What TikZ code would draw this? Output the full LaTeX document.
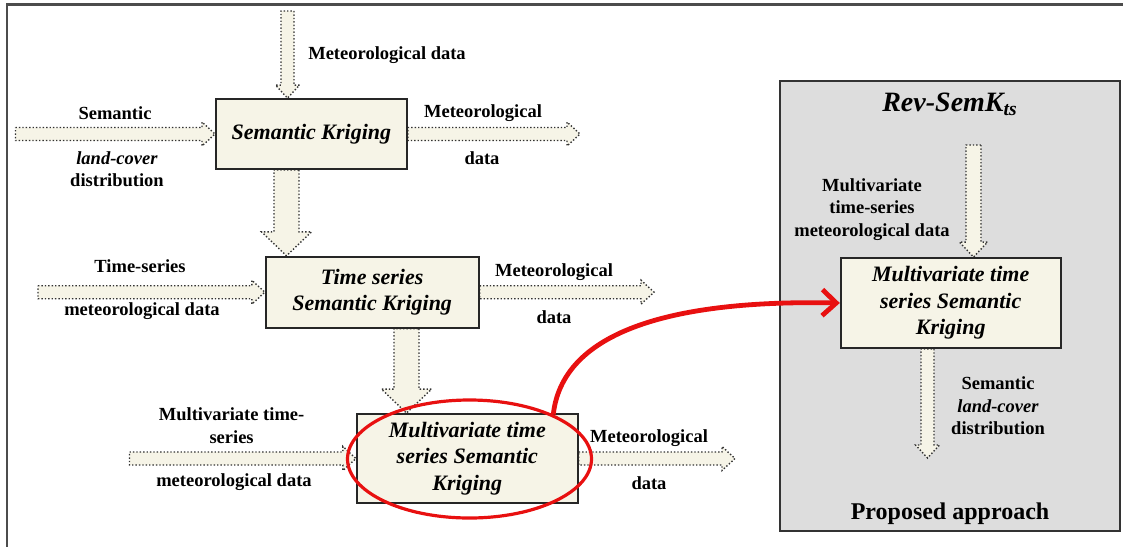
\documentclass[tikz,border=0pt]{standalone}
\usepackage{fontspec}
\setmainfont{Liberation Serif}
\usetikzlibrary{arrows.meta,calc,shapes.geometric,positioning}
\definecolor{cream}{RGB}{246,244,231}
\definecolor{panelgrey}{RGB}{221,221,221}
\definecolor{hlred}{RGB}{232,16,16}
\newcommand\lblfont{\fontsize{9.25}{11.25}\selectfont\bfseries}
\newcommand\boxfont{\fontsize{11}{13.25}\selectfont\bfseries\itshape}
\pgfdeclarelayer{back}
\pgfsetlayers{back,main}
\tikzset{
  arrbody/.store in=\arrbody, arrhead/.store in=\arrhead, arrlen/.store in=\arrlen,
  blockarrow/.style={draw=black!80, densely dotted, line width=0.7pt, fill=cream,
    to path={let \p1=(\tikztostart), \p2=(\tikztotarget),
      \p3=($(\tikztotarget)!\arrlen!(\tikztostart)$) in
      ($(\p1)!\arrbody!90:(\p2)$) -- ($(\p3)!\arrbody!90:(\p2)$)
      -- ($(\p3)!\arrhead!90:(\p2)$) -- (\p2) -- ($(\p3)!\arrhead!-90:(\p2)$)
      -- ($(\p3)!\arrbody!-90:(\p2)$) -- ($(\p1)!\arrbody!-90:(\p2)$) -- cycle}},
  slim/.style={blockarrow, arrbody=3.25pt, arrhead=6pt, arrlen=6.5pt},
  fat/.style={blockarrow, arrbody=6.25pt, arrhead=12.5pt, arrlen=12pt},
  kbox/.style={draw=black!85, line width=0.9pt, fill=cream, align=center, inner sep=0pt, font=\boxfont},
  lbl/.style={align=center, inner sep=0pt, font=\lblfont},
}
\begin{document}
\begin{tikzpicture}[x=0.5pt, y=-0.5pt]
\useasboundingbox (0,0) rectangle (1123,547);
\draw[line width=1.2pt, black!70] (1123,4.5) -- (7,4.5) -- (7,547);

% boxes
\node[kbox, minimum width=95.5pt, minimum height=35pt] (sk) at (311.4,134) {Semantic Kriging};
\node[kbox, minimum width=106.5pt, minimum height=35.5pt] (tssk) at (372.2,292.2) {Time series\\Semantic Kriging};
\node[kbox, minimum width=110.5pt, minimum height=44.5pt] (mtssk) at (467.3,458.5) {Multivariate time\\series Semantic\\Kriging};
\node[kbox, minimum width=110pt, minimum height=45pt] (mtsskp) at (950.7,303) {Multivariate time\\series Semantic\\Kriging};

% arrow ends
\coordinate (in0) at (287.5,11);
\coordinate (in1) at (15.5,134);
\coordinate (out1) at (580,134);
\coordinate (c1) at (286.5,0);
\coordinate (in2) at (38,292.2);
\coordinate (out2) at (654,292.2);
\coordinate (c2) at (406.5,0);
\coordinate (in3) at (129.5,458.5);
\coordinate (out3) at (735,458.5);
\coordinate (in4) at (973.5,145);
\coordinate (c4) at (927.5,0);
\coordinate (out4) at (927.5,458);

\begin{pgfonlayer}{back}
\node[draw=black!80, line width=1pt, fill=panelgrey, minimum width=170pt, minimum height=225pt] (panel) at (950,306) {};
\draw[slim] (in0) to (in0 |- sk.north);
\draw[slim] (in1) to (sk.west);
\draw[slim] (sk.east) to (out1);
\draw[fat] (c1 |- sk.south) to (c1 |- tssk.north);
\draw[slim] (in2) to (tssk.west);
\draw[slim] (tssk.east) to (out2);
\draw[fat] (c2 |- tssk.south) to (c2 |- mtssk.north);
\draw[slim] (in3) to (mtssk.west);
\draw[slim] (mtssk.east) to (out3);
\draw[slim, arrbody=3.75pt, arrhead=7pt, arrlen=7.5pt] (in4) to (in4 |- mtsskp.north);
\draw[slim] (c4 |- mtsskp.south) to (out4);
\end{pgfonlayer}

% labels
\node[lbl] (l0) at (387,55) {Meteorological data};
\node[lbl] (l1a) at (115,113) {Semantic};
\node[lbl] (l1b) at (117,169) {\textit{land-cover}\\distribution};
\node[lbl] (r1a) at (483,113) {Meteorological};
\node[lbl] (r1b) at (482,158) {data};
\node[lbl] (l2a) at (140,266) {Time-series};
\node[lbl] (l2b) at (142,311) {meteorological data};
\node[lbl] (r2a) at (554,272) {Meteorological};
\node[lbl] (r2b) at (554,317) {data};
\node[lbl] (l3a) at (231.6,425.5) {Multivariate time-\\series};
\node[lbl] (l3b) at (234,481.7) {meteorological data};
\node[lbl] (r3a) at (649,438) {Meteorological};
\node[lbl] (r3b) at (649,483) {data};
\node[lbl] (l4) at (872,209.5) {Multivariate\\time-series\\meteorological data};
\node[lbl] (l5) at (998,406) {Semantic\\\textit{land-cover}\\distribution};
\node[inner sep=0pt, font=\fontsize{14}{16}\selectfont\bfseries\itshape] (title) at (950,104) {Rev-SemK\textsubscript{ts}};
\node[inner sep=0pt, font=\fontsize{12}{14}\selectfont\bfseries] (prop) at (950,514) {Proposed approach};

% highlight
\node[draw=hlred, line width=1.6pt, ellipse, minimum width=122pt, minimum height=59pt, inner sep=0pt] (hl) at (469.5,459) {};
\draw[hlred, line width=2.4pt, -{Straight Barb[length=7pt,width=13pt]}] (hl.28) .. controls +(10,-90) and +(-150,-3) .. (mtsskp.west);
\end{tikzpicture}
\end{document}
